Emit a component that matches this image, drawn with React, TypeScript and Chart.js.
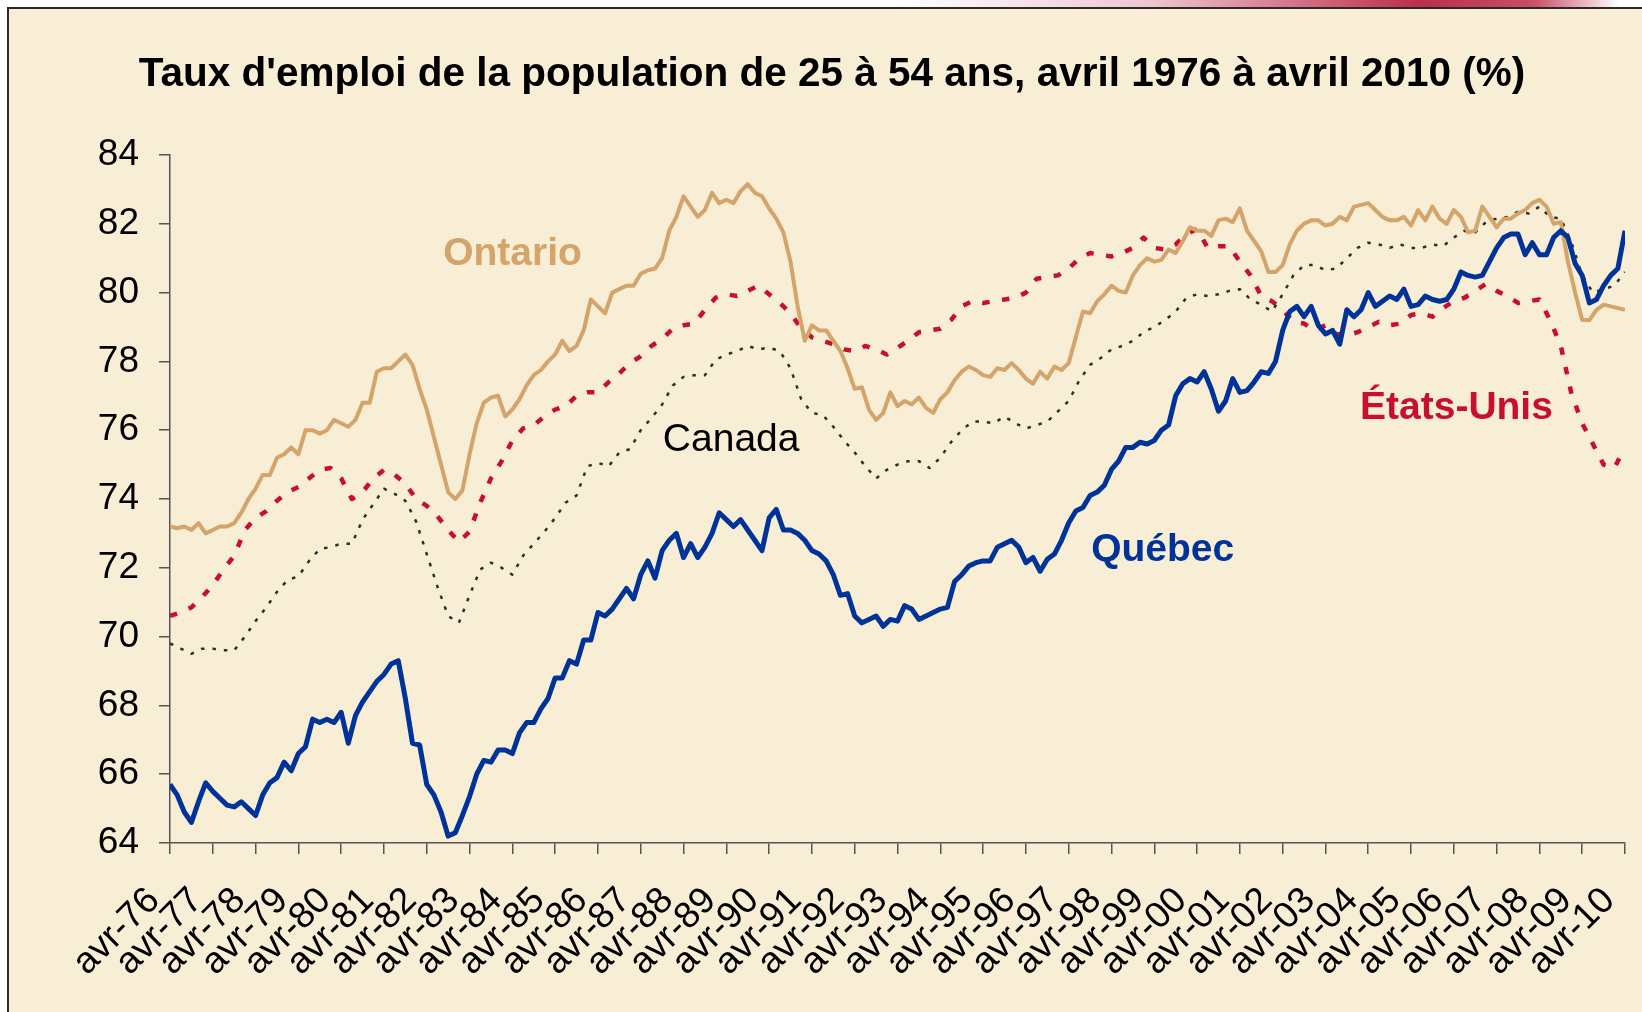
import React, { useEffect, useRef } from "react";
import { Chart, registerables } from "chart.js";

Chart.register(...registerables);

const TITLE = "Taux d'emploi de la population de 25 à 54 ans, avril 1976 à avril 2010 (%)";
const FONT = "'Liberation Sans', Arial, Helvetica, sans-serif";

// x-axis: months since April 1976, one label per April
const yearLabels = [
  "avr-76", "avr-77", "avr-78", "avr-79", "avr-80", "avr-81", "avr-82", "avr-83", "avr-84",
  "avr-85", "avr-86", "avr-87", "avr-88", "avr-89", "avr-90", "avr-91", "avr-92", "avr-93",
  "avr-94", "avr-95", "avr-96", "avr-97", "avr-98", "avr-99", "avr-00", "avr-01", "avr-02",
  "avr-03", "avr-04", "avr-05", "avr-06", "avr-07", "avr-08", "avr-09", "avr-10",
];
const MONTHS_PER_LABEL = 12;
const BIMONTHLY_STEP = 2; // Québec, Ontario: one value every 2 months
const QUARTERLY_STEP = 3; // Canada, États-Unis: one value every 3 months

const Y_MIN = 64;
const Y_MAX = 84;
const Y_STEP = 2;

// Québec, every 2 months from avr-76 to avr-10
const quebec = [
  65.7, 65.4, 64.9, 64.6, 65.2, 65.75,
  65.5, 65.3, 65.1, 65.05, 65.2, 65.0,
  64.8, 65.4, 65.75, 65.9, 66.35, 66.1,
  66.6, 66.8, 67.6, 67.5, 67.6, 67.5,
  67.8, 66.9, 67.7, 68.1, 68.4, 68.7,
  68.9, 69.2, 69.3, 68.2, 66.9, 66.85,
  65.7, 65.4, 64.9, 64.2, 64.3, 64.8,
  65.35, 66.0, 66.4, 66.35, 66.7, 66.7,
  66.6, 67.2, 67.5, 67.5, 67.9, 68.2,
  68.8, 68.8, 69.3, 69.2, 69.9, 69.9,
  70.7, 70.6, 70.8, 71.1, 71.4, 71.1,
  71.8, 72.2, 71.7, 72.5, 72.8, 73.0,
  72.3, 72.7, 72.3, 72.6, 73.0, 73.6,
  73.4, 73.2, 73.4, 73.1, 72.8, 72.5,
  73.45, 73.7, 73.1, 73.1, 73.0, 72.8,
  72.5, 72.4, 72.2, 71.8, 71.2, 71.25,
  70.6, 70.4, 70.5, 70.6, 70.3, 70.5,
  70.45, 70.9, 70.8, 70.5, 70.6, 70.7,
  70.8, 70.85, 71.6, 71.8, 72.05, 72.15,
  72.2, 72.2, 72.6, 72.7, 72.8, 72.6,
  72.15, 72.3, 71.9, 72.25, 72.4, 72.8,
  73.3, 73.65, 73.75, 74.1, 74.2, 74.4,
  74.86, 75.1, 75.5, 75.5, 75.65, 75.6,
  75.7, 76.0, 76.15, 77.0, 77.35, 77.5,
  77.4, 77.7, 77.2, 76.55, 76.85, 77.5,
  77.1, 77.15, 77.4, 77.7, 77.65, 78.0,
  78.9, 79.45, 79.6, 79.3, 79.6, 79.05,
  78.8, 78.9, 78.5, 79.5, 79.3, 79.5,
  80.0, 79.6, 79.75, 79.9, 79.8, 80.1,
  79.6, 79.65, 79.9, 79.8, 79.75, 79.8,
  80.1, 80.6, 80.5, 80.45, 80.5, 80.9,
  81.3, 81.6, 81.7, 81.7, 81.1, 81.45,
  81.1, 81.1, 81.6, 81.8, 81.6, 80.85,
  80.5, 79.7, 79.8, 80.2, 80.5, 80.7,
  81.8,
];

// Ontario, every 2 months
const ontario = [
  73.2, 73.15, 73.2, 73.1, 73.3, 73.0,
  73.1, 73.2, 73.2, 73.3, 73.6, 74.0,
  74.3, 74.7, 74.7, 75.2, 75.3, 75.5,
  75.3, 76.0, 76.0, 75.9, 76.0, 76.3,
  76.2, 76.1, 76.3, 76.8, 76.8, 77.7,
  77.8, 77.8, 78.0, 78.2, 77.9, 77.2,
  76.6, 75.8, 75.0, 74.2, 74.0, 74.25,
  75.3, 76.2, 76.8, 76.95, 77.0, 76.4,
  76.6, 76.9, 77.3, 77.6, 77.75, 78.0,
  78.2, 78.6, 78.3, 78.45, 78.9, 79.8,
  79.6, 79.4, 80.0, 80.1, 80.2, 80.2,
  80.55, 80.65, 80.7, 81.0, 81.8, 82.2,
  82.8, 82.5, 82.2, 82.4, 82.9, 82.6,
  82.7, 82.6, 82.95, 83.15, 82.9, 82.8,
  82.45, 82.15, 81.75, 80.9, 79.6, 78.6,
  79.05, 78.9, 78.9, 78.6, 78.3, 77.8,
  77.2, 77.25, 76.6, 76.3, 76.5, 77.1,
  76.7, 76.85, 76.75, 76.95, 76.65, 76.5,
  76.9, 77.1, 77.45, 77.7, 77.85, 77.75,
  77.6, 77.55, 77.8, 77.75, 77.95, 77.75,
  77.5, 77.35, 77.7, 77.5, 77.85, 77.75,
  77.95, 78.7, 79.45, 79.4, 79.75, 79.95,
  80.2, 80.05, 80.0, 80.5, 80.8, 81.0,
  80.9, 80.95, 81.25, 81.15, 81.5, 81.9,
  81.8, 81.8, 81.65, 82.1, 82.15, 82.05,
  82.45, 81.8, 81.5, 81.2, 80.6, 80.6,
  80.8, 81.4, 81.8, 82.0, 82.1, 82.1,
  81.95, 82.0, 82.2, 82.1, 82.5, 82.55,
  82.6, 82.4, 82.2, 82.1, 82.1, 82.2,
  81.95, 82.4, 82.1, 82.5, 82.15, 82.0,
  82.4, 82.2, 81.75, 81.8, 82.5, 82.2,
  81.9, 82.15, 82.15, 82.3, 82.4, 82.6,
  82.7, 82.5, 82.0, 82.05, 80.9, 80.0,
  79.2, 79.2, 79.5, 79.65, 79.6, 79.55,
  79.5,
];

// Canada, every 3 months
const canada = [
  69.8, 69.65, 69.5, 69.65,
  69.65, 69.6, 69.6, 70.0,
  70.45, 70.85, 71.3, 71.65,
  71.75, 72.2, 72.55, 72.6,
  72.7, 72.7, 73.4, 73.85,
  74.3, 74.15, 73.95, 73.35,
  72.4, 71.45, 70.6, 70.4,
  71.2, 71.95, 72.15, 72.0,
  71.8, 72.35, 72.7, 73.05,
  73.45, 73.9, 74.1, 74.95,
  75.05, 74.95, 75.35, 75.45,
  76.0, 76.35, 76.75, 77.3,
  77.55, 77.6, 77.6, 78.05,
  78.2, 78.3, 78.45, 78.35,
  78.4, 78.3, 77.8, 76.9,
  76.5, 76.45, 76.1, 75.7,
  75.35, 74.95, 74.6, 74.85,
  75.0, 75.1, 75.1, 74.9,
  75.2, 75.65, 76.0, 76.25,
  76.25, 76.2, 76.4, 76.2,
  76.05, 76.15, 76.25, 76.55,
  76.85, 77.45, 77.9, 78.1,
  78.35, 78.45, 78.6, 78.85,
  79.0, 79.2, 79.45, 79.85,
  79.95, 79.9, 79.95, 80.05,
  80.1, 79.8, 79.65, 79.45,
  79.95, 80.5, 80.8, 80.8,
  80.65, 80.7, 81.0, 81.3,
  81.45, 81.4, 81.3, 81.4,
  81.3, 81.3, 81.4, 81.35,
  81.6, 81.8, 81.75, 82.05,
  82.15, 82.2, 82.35, 82.3,
  82.5, 82.2, 82.15, 81.45,
  80.5, 80.0, 80.1, 80.2,
  80.6,
];

// États-Unis, every 3 months
const etatsUnis = [
  70.6, 70.7, 70.85, 71.15,
  71.5, 71.95, 72.35, 73.1,
  73.45, 73.65, 73.95, 74.2,
  74.35, 74.6, 74.85, 74.9,
  74.6, 74.0, 74.2, 74.6,
  74.85, 74.7, 74.45, 74.0,
  73.8, 73.5, 73.1, 72.75,
  73.05, 73.9, 74.6, 75.1,
  75.7, 76.05, 76.15, 76.4,
  76.6, 76.7, 77.0, 77.1,
  77.1, 77.4, 77.65, 77.95,
  78.15, 78.45, 78.65, 78.95,
  79.05, 79.1, 79.5, 79.85,
  79.95, 79.9, 80.05, 80.2,
  79.95, 79.7, 79.4, 78.95,
  78.7, 78.6, 78.5, 78.35,
  78.3, 78.45, 78.35, 78.2,
  78.4, 78.6, 78.85, 78.9,
  78.95, 79.2, 79.6, 79.75,
  79.7, 79.75, 79.8, 79.85,
  80.0, 80.4, 80.45, 80.5,
  80.7, 81.0, 81.15, 81.1,
  81.05, 81.15, 81.3, 81.6,
  81.3, 81.25, 81.4, 81.7,
  81.85, 81.3, 81.35, 81.35,
  80.9, 80.5, 79.9, 79.75,
  79.5, 79.15, 79.1, 78.9,
  79.05, 78.8, 78.75, 78.85,
  79.0, 79.15, 79.05, 79.1,
  79.35, 79.4, 79.3, 79.55,
  79.75, 79.85, 80.05, 80.25,
  80.05, 79.9, 79.7, 79.75,
  79.8, 79.2, 78.45, 77.05,
  76.2, 75.6, 75.0, 74.9,
  75.5,
];

// in-chart series labels, anchored in data space (month, value)
const annotationTexts = ["Ontario", "Canada", "Québec", "États-Unis"];
const annotationMonths = [76.6, 138.2, 258.3, 333.7];
const annotationValues = [80.8, 75.4, 72.2, 76.33];
const annotationBold = [true, false, true, true];

const COLORS = {
  quebec: "#003399",
  ontario: "#D4A46A",
  canada: "#2e2e2e",
  us: "#C8102E",
  axis: "#555555",
  bg: "#F8EED6",
};
const annotationColors = [COLORS.ontario, "#000000", COLORS.quebec, COLORS.us];

export default function App() {
  const ref = useRef<HTMLCanvasElement | null>(null);

  useEffect(() => {
    const canvas = ref.current;
    if (!canvas) return;
    const toPoints = (vals: number[], step: number) =>
      vals.map((v, i) => ({ x: i * step, y: v }));

    const textPlugin = {
      id: "textLayer",
      afterDatasetsDraw(chart: any) {
        const { ctx } = chart;
        const xs = chart.scales.x;
        const ys = chart.scales.y;
        ctx.save();
        ctx.fillStyle = "#000";
        ctx.font = `bold 40.5px ${FONT}`;
        ctx.textAlign = "center";
        ctx.textBaseline = "alphabetic";
        ctx.fillText(TITLE, 832, 86);
        ctx.textAlign = "left";
        annotationTexts.forEach((t, i) => {
          ctx.font = `${annotationBold[i] ? "bold " : ""}39px ${FONT}`;
          ctx.fillStyle = annotationColors[i];
          ctx.fillText(t, xs.getPixelForValue(annotationMonths[i]), ys.getPixelForValue(annotationValues[i]));
        });
        ctx.restore();
      },
    };

    const axisGrid = {
      display: true,
      drawOnChartArea: false,
      drawTicks: true,
      tickLength: 11,
      color: COLORS.axis,
      lineWidth: 1.5,
    };

    const chart = new Chart(canvas, {
      type: "line",
      data: {
        datasets: [
          {
            label: "Québec",
            data: toPoints(quebec, BIMONTHLY_STEP),
            borderColor: COLORS.quebec,
            borderWidth: 5,
          },
          {
            label: "Ontario",
            data: toPoints(ontario, BIMONTHLY_STEP),
            borderColor: COLORS.ontario,
            borderWidth: 4,
          },
          {
            label: "Canada",
            data: toPoints(canada, QUARTERLY_STEP),
            borderColor: COLORS.canada,
            borderWidth: 2.5,
            borderDash: [3.5, 8],
          },
          {
            label: "États-Unis",
            data: toPoints(etatsUnis, QUARTERLY_STEP),
            borderColor: COLORS.us,
            borderWidth: 4.5,
            borderDash: [7.5, 12.5],
          },
        ],
      },
      options: {
        responsive: false,
        animation: false,
        devicePixelRatio: 1,
        layout: { padding: { left: 0, top: 155, right: 17, bottom: 0 } },
        plugins: {
          legend: { display: false },
          title: { display: false },
          tooltip: { enabled: false },
        },
        elements: {
          point: { radius: 0, hoverRadius: 0 },
          line: { tension: 0, borderJoinStyle: "round", borderCapStyle: "butt", fill: false },
        },
        scales: {
          x: {
            type: "linear",
            min: 0,
            max: (yearLabels.length - 1) * MONTHS_PER_LABEL,
            afterBuildTicks: (s: any) => {
              s.ticks = yearLabels.map((_, i) => ({ value: i * MONTHS_PER_LABEL }));
            },
            afterFit: (s: any) => {
              s.height = 169;
              s.paddingLeft = 0;
              s.paddingRight = 0;
            },
            ticks: {
              autoSkip: false,
              minRotation: 45,
              maxRotation: 45,
              padding: 25,
              labelOffset: -16,
              color: "#000",
              font: { family: FONT, size: 37 },
              callback: (v: any) => yearLabels[Math.round(Number(v) / MONTHS_PER_LABEL)] ?? "",
            },
            grid: axisGrid,
            border: { display: true, color: COLORS.axis, width: 1.5 },
          },
          y: {
            min: Y_MIN,
            max: Y_MAX,
            afterFit: (s: any) => {
              s.width = 170;
              s.paddingTop = 0;
              s.paddingBottom = 0;
            },
            ticks: {
              stepSize: Y_STEP,
              padding: 20,
              color: "#000",
              font: { family: FONT, size: 37 },
            },
            grid: axisGrid,
            border: { display: true, color: COLORS.axis, width: 1.5 },
          },
        },
      },
      plugins: [textPlugin],
    } as any);

    return () => chart.destroy();
  }, []);

  return (
    <div
      style={{
        position: "absolute",
        left: 0,
        top: 0,
        width: 1642,
        height: 1012,
        overflow: "hidden",
        background: "#ffffff",
      }}
    >
      <div
        style={{
          position: "absolute",
          left: 900,
          top: 0,
          width: 720,
          height: 8,
          background:
            "linear-gradient(to right, rgba(235,200,210,0) 0%, rgba(220,140,160,0.5) 35%, rgba(185,35,65,0.95) 72%, rgba(185,35,65,0.8) 88%, rgba(185,35,65,0) 100%)",
        }}
      />
      <div
        style={{
          position: "absolute",
          left: 7,
          top: 7,
          width: 1700,
          height: 1100,
          borderLeft: "2px solid #2a2a2a",
          borderTop: "2px solid #2a2a2a",
          background: COLORS.bg,
        }}
      />
      <canvas
        ref={ref}
        width={1642}
        height={1012}
        style={{ position: "absolute", left: 0, top: 0, width: 1642, height: 1012 }}
      />
    </div>
  );
}
